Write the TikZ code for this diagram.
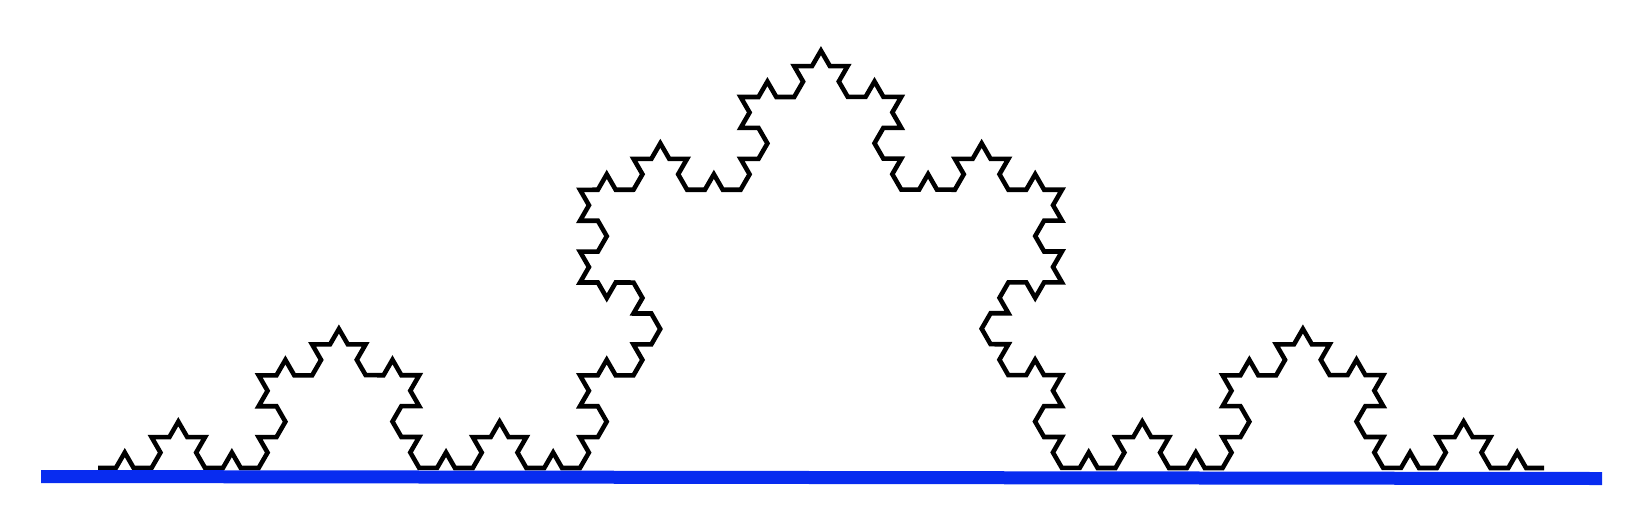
\documentclass[tikz,border=0pt]{standalone}
\usetikzlibrary{decorations.fractals}
\definecolor{baseblue}{RGB}{8,44,240}
\begin{document}
\begin{tikzpicture}[x=0.01cm,y=0.01cm]
\useasboundingbox (0,0) rectangle (1628,520);

% Koch curve, level 4
\draw [line width=1.3pt,decoration=Koch snowflake]
  decorate{decorate{decorate{decorate{(98,52) -- (1544,52)}}}};

% base line
\fill [baseblue] (41,37) -- (1602,35) -- (1602,48) -- (41,50) -- cycle;
\end{tikzpicture}
\end{document}
